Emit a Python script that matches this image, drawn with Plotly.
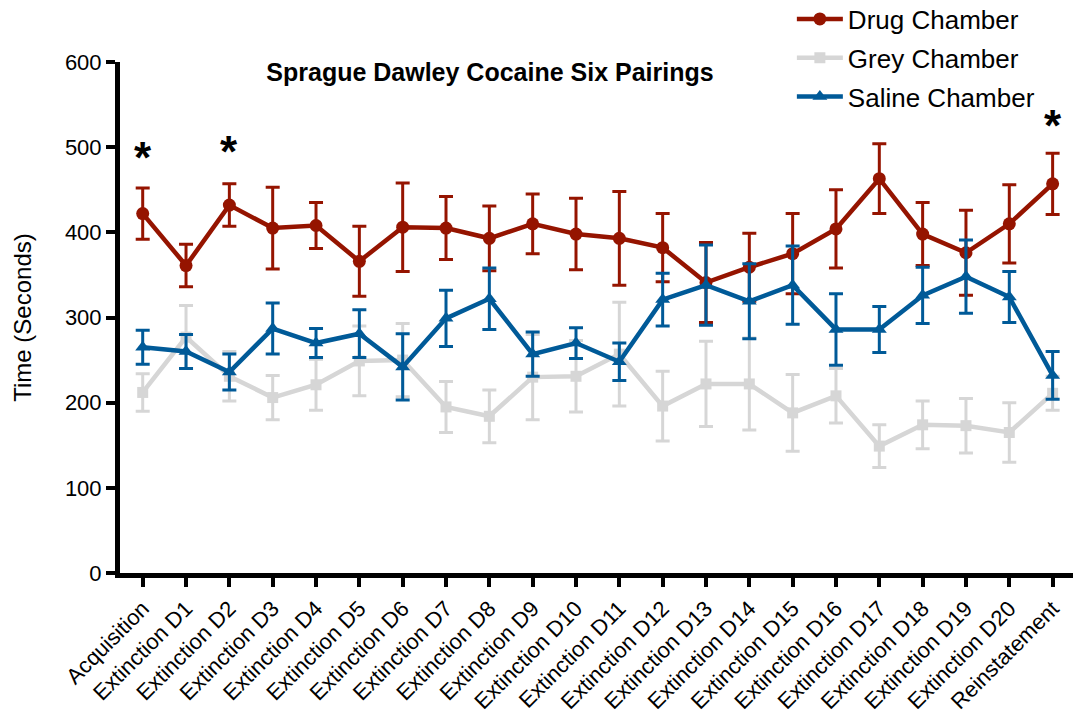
import plotly.graph_objects as go

# Session labels along the x axis
sessions = ["Acquisition"] + [f"Extinction D{i}" for i in range(1, 21)] + ["Reinstatement"]

# Mean time spent in each chamber (seconds) and SEM
drug_mean = [422, 361, 432, 405, 408, 366, 406, 405, 393, 410, 398, 393, 382, 341, 359, 375, 404, 463, 398, 376, 410, 457]
drug_sem = [30, 25, 25, 48, 27, 41, 52, 37, 38, 35, 42, 55, 40, 47, 40, 47, 46, 41, 37, 50, 46, 36]

grey_mean = [212, 277, 231, 206, 221, 249, 250, 195, 184, 230, 231, 257, 196, 222, 222, 188, 208, 149, 174, 173, 165, 211]
grey_sem = [22, 37, 29, 26, 30, 41, 43, 30, 31, 50, 42, 61, 41, 50, 54, 45, 32, 25, 28, 32, 35, 20]

saline_mean = [265, 260, 236, 287, 270, 281, 242, 299, 322, 257, 270, 248, 321, 338, 319, 338, 286, 286, 326, 348, 324, 232]
saline_sem = [20, 20, 21, 30, 17, 28, 39, 33, 36, 26, 18, 22, 31, 47, 44, 46, 42, 27, 33, 43, 30, 28]

# Significance markers: (session index, height in seconds)
sig_idx = [0, 2, 21]
sig_y = [488, 495, 526]

y_ticks = [0, 100, 200, 300, 400, 500, 600]

FONT = "Liberation Sans, Arial, sans-serif"
RED = "#951400"
GREY = "#D6D6D6"
BLUE = "#005A98"

x = list(range(len(sessions)))


def chamber(name, mean, sem, color, symbol, size, rank):
    return go.Scatter(
        x=x, y=mean, name=name, mode="lines+markers",
        line=dict(color=color, width=4.5),
        marker=dict(color=color, symbol=symbol, size=size),
        error_y=dict(type="data", array=sem, visible=True, color=color,
                     thickness=3, width=7),
        legendrank=rank, legendgroup=name,
    )


fig = go.Figure()
# grey underneath, saline on top
fig.add_trace(chamber("Grey Chamber", grey_mean, grey_sem, GREY, "square", 11, 2))
fig.add_trace(chamber("Drug Chamber", drug_mean, drug_sem, RED, "circle", 13, 1))
fig.add_trace(chamber("Saline Chamber", saline_mean, saline_sem, BLUE, "triangle-up", 13, 3))

for i, yv in zip(sig_idx, sig_y):
    fig.add_annotation(x=i, y=yv, text="<b>*</b>", showarrow=False,
                       font=dict(family=FONT, size=44, color="black"),
                       xanchor="center", yanchor="middle")

fig.update_layout(
    width=1073, height=715,
    margin=dict(l=120, r=0, t=62, b=142, autoexpand=False),
    paper_bgcolor="white", plot_bgcolor="white",
    font=dict(family=FONT, color="black"),
    title=dict(text="<b>Sprague Dawley Cocaine Six Pairings</b>",
               x=490 / 1073, y=1 - 72 / 715, xanchor="center", yanchor="middle",
               font=dict(size=25, family=FONT, color="black")),
    legend=dict(x=0.705, y=1.13, xanchor="left", yanchor="top",
                font=dict(size=26, family=FONT), tracegroupgap=2,
                bgcolor="rgba(0,0,0,0)", itemwidth=46),
    showlegend=True,
)

fig.update_xaxes(
    range=[-0.524, 21.47], tickmode="array", tickvals=x, ticktext=sessions,
    tickangle=-45, tickfont=dict(size=22, family=FONT), automargin=False,
    showline=True, linecolor="black", linewidth=5,
    ticks="outside", ticklen=9, tickwidth=4, tickcolor="black",
    showgrid=False, zeroline=False,
)
fig.update_yaxes(
    range=[0, 600], tickmode="array", tickvals=y_ticks,
    tickfont=dict(size=22, family=FONT), automargin=False,
    showline=True, linecolor="black", linewidth=5,
    ticks="outside", ticklen=9, tickwidth=4, tickcolor="black",
    showgrid=False, zeroline=False,
    title=dict(text="Time (Seconds)", font=dict(size=24, family=FONT), standoff=28),
)

fig.write_html("out.html")
